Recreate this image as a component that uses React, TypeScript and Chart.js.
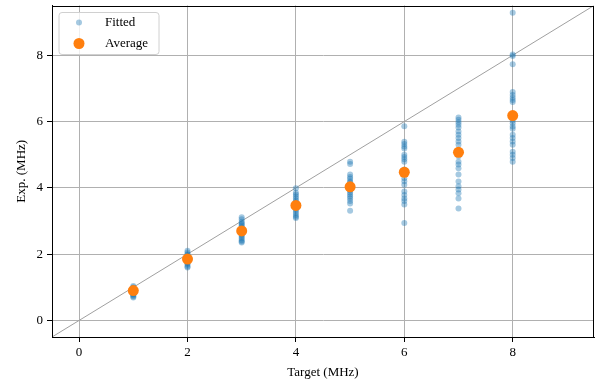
import React, { useEffect, useRef } from "react";
import { Chart, registerables } from "chart.js";

Chart.register(...registerables);

// Target frequencies (MHz)
const targets = [1, 2, 3, 4, 5, 6, 7, 8];

// Fitted experimental frequencies for each target (MHz)
const fitted1 = [1.04, 1.0, 0.98, 0.95, 0.93, 0.92, 0.9, 0.88, 0.87, 0.85, 0.83, 0.8, 0.78, 0.75, 0.72, 0.69];
const fitted2 = [2.1, 2.05, 2.0, 1.97, 1.93, 1.9, 1.88, 1.86, 1.84, 1.82, 1.8, 1.78, 1.75, 1.72, 1.68, 1.63, 1.6];
const fitted3 = [3.11, 3.05, 2.98, 2.94, 2.9, 2.86, 2.82, 2.79, 2.75, 2.7, 2.66, 2.6, 2.56, 2.52, 2.47, 2.42, 2.38, 2.35];
const fitted4 = [3.99, 3.85, 3.8, 3.74, 3.68, 3.62, 3.57, 3.52, 3.46, 3.4, 3.35, 3.3, 3.24, 3.18, 3.13, 3.09];
const fitted5 = [4.79, 4.72, 4.4, 4.33, 4.27, 4.2, 4.16, 4.1, 4.05, 3.98, 3.92, 3.86, 3.8, 3.74, 3.68, 3.6, 3.53, 3.31];
const fitted6 = [5.86, 5.39, 5.32, 5.25, 5.19, 5.0, 4.93, 4.86, 4.79, 4.55, 4.29, 4.2, 4.09, 3.89, 3.78, 3.68, 3.6, 3.5, 2.94];
const fitted7 = [6.12, 6.05, 5.98, 5.9, 5.82, 5.7, 5.6, 5.5, 5.4, 5.3, 4.95, 4.79, 4.7, 4.59, 4.4, 4.19, 4.05, 3.95, 3.84, 3.68, 3.38];
const fitted8 = [9.28, 8.02, 7.98, 7.73, 6.89, 6.8, 6.72, 6.65, 6.59, 6.1, 6.02, 5.95, 5.85, 5.78, 5.6, 5.5, 5.4, 5.3, 5.09, 5.0, 4.9, 4.79];
const fittedByTarget = [fitted1, fitted2, fitted3, fitted4, fitted5, fitted6, fitted7, fitted8];

// Mean experimental frequency per target (MHz)
const averages = [0.9, 1.85, 2.7, 3.47, 4.03, 4.47, 5.07, 6.18];

// Axis limits and ticks
const axisMin = -0.5;
const axisMax = 9.5;
const tickValues = [0, 2, 4, 6, 8];

const FONT = "'Liberation Serif', 'DejaVu Serif', serif";
const ORANGE = "#ff7f0e";
const BLUE_FADED = "rgba(31,119,180,0.4)";

// Frame around the plot area plus an in-plot legend box
const framePlugin = {
  id: "frameAndLegend",
  afterDraw(chart: any) {
    const { ctx, chartArea } = chart;
    const { left, top, right, bottom } = chartArea;
    ctx.save();
    ctx.strokeStyle = "#000";
    ctx.lineWidth = 1;
    ctx.strokeRect(Math.round(left) + 0.5, Math.round(top) + 0.5, Math.round(right - left) - 1, Math.round(bottom - top) - 1);

    // legend
    const bx = left + 7, by = top + 7, bw = 100, bh = 42, r = 3;
    ctx.beginPath();
    ctx.moveTo(bx + r, by);
    ctx.lineTo(bx + bw - r, by);
    ctx.quadraticCurveTo(bx + bw, by, bx + bw, by + r);
    ctx.lineTo(bx + bw, by + bh - r);
    ctx.quadraticCurveTo(bx + bw, by + bh, bx + bw - r, by + bh);
    ctx.lineTo(bx + r, by + bh);
    ctx.quadraticCurveTo(bx, by + bh, bx, by + bh - r);
    ctx.lineTo(bx, by + r);
    ctx.quadraticCurveTo(bx, by, bx + r, by);
    ctx.closePath();
    ctx.fillStyle = "rgba(255,255,255,0.8)";
    ctx.fill();
    ctx.strokeStyle = "#d0d0d0";
    ctx.stroke();

    const mx = bx + 20;
    ctx.fillStyle = BLUE_FADED;
    ctx.beginPath();
    ctx.arc(mx, by + 10, 3, 0, Math.PI * 2);
    ctx.fill();
    ctx.fillStyle = ORANGE;
    ctx.beginPath();
    ctx.arc(mx, by + 31, 5.5, 0, Math.PI * 2);
    ctx.fill();

    ctx.fillStyle = "#000";
    ctx.font = `13px ${FONT}`;
    ctx.textBaseline = "middle";
    ctx.textAlign = "left";
    ctx.fillText("Fitted", bx + 46, by + 10);
    ctx.fillText("Average", bx + 46, by + 31);
    ctx.restore();
  },
};

export default function App() {
  const canvasRef = useRef<HTMLCanvasElement | null>(null);

  useEffect(() => {
    document.body.style.margin = "0";
    const canvas = canvasRef.current;
    if (!canvas) return;

    const fittedPoints: { x: number; y: number }[] = [];
    fittedByTarget.forEach((vals, i) => {
      vals.forEach((v) => fittedPoints.push({ x: targets[i], y: v }));
    });
    const avgPoints = targets.map((t, i) => ({ x: t, y: averages[i] }));

    const tickFont = { family: FONT, size: 13 };

    const chart = new Chart(canvas, {
      type: "scatter",
      data: {
        datasets: [
          {
            label: "Average",
            data: avgPoints,
            backgroundColor: ORANGE,
            borderWidth: 0,
            pointRadius: 5.5,
            order: 0,
          },
          {
            label: "Fitted",
            data: fittedPoints,
            backgroundColor: BLUE_FADED,
            borderWidth: 0,
            pointRadius: 3,
            order: 1,
          },
          {
            type: "line",
            label: "y = x",
            data: [
              { x: axisMin, y: axisMin },
              { x: axisMax, y: axisMax },
            ],
            borderColor: "#a0a0a0",
            borderWidth: 1,
            pointRadius: 0,
            fill: false,
            order: 2,
          },
        ] as any,
      },
      options: {
        animation: false,
        responsive: false,
        maintainAspectRatio: false,
        layout: { padding: { top: 3, right: 8, left: 0, bottom: 0 } },
        plugins: { legend: { display: false }, tooltip: { enabled: false } },
        scales: {
          x: {
            type: "linear",
            min: axisMin,
            max: axisMax,
            afterBuildTicks: (s: any) => {
              s.ticks = tickValues.map((v) => ({ value: v }));
            },
            afterFit: (s: any) => {
              s.height = 49;
              s.paddingLeft = 0;
              s.paddingRight = 0;
            },
            grid: { color: "#b0b0b0", lineWidth: 1, tickLength: 5, tickColor: "#000" },
            border: { color: "#000", width: 1 },
            ticks: { font: tickFont, color: "#000", padding: 3, maxRotation: 0 },
            title: { display: true, text: "Target (MHz)", font: tickFont, color: "#000", padding: { top: 0, bottom: 6 } },
          },
          y: {
            type: "linear",
            min: axisMin,
            max: axisMax,
            afterBuildTicks: (s: any) => {
              s.ticks = tickValues.map((v) => ({ value: v }));
            },
            afterFit: (s: any) => {
              s.width = 52;
              s.paddingTop = 0;
              s.paddingBottom = 0;
            },
            grid: { color: "#b0b0b0", lineWidth: 1, tickLength: 5, tickColor: "#000" },
            border: { color: "#000", width: 1 },
            ticks: { font: tickFont, color: "#000", padding: 4 },
            title: { display: true, text: "Exp. (MHz)", font: tickFont, color: "#000", padding: { top: 14, bottom: 0 } },
          },
        },
      },
      plugins: [framePlugin],
    });

    return () => chart.destroy();
  }, []);

  return (
    <div style={{ position: "absolute", left: 0, top: 0, width: 602, height: 386, background: "#fff" }}>
      <canvas ref={canvasRef} width={602} height={386} style={{ width: 602, height: 386 }} />
    </div>
  );
}
